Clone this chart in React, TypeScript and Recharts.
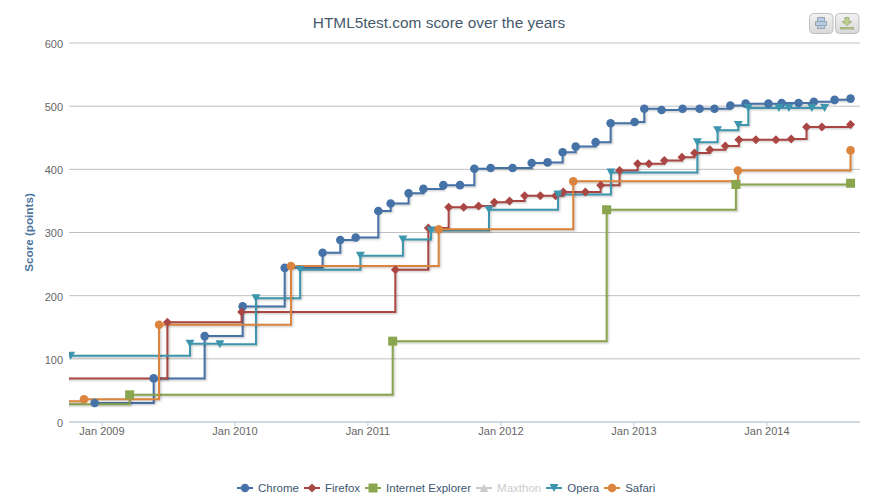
import React from "react";
import { LineChart, Line, XAxis, YAxis, CartesianGrid } from "recharts";

// dates are decimal years
const chromeDates = [2008.945, 2009.389, 2009.772, 2010.058, 2010.374, 2010.659, 2010.792, 2010.908, 2011.078, 2011.171, 2011.306, 2011.417, 2011.567, 2011.692, 2011.8, 2011.923, 2012.088, 2012.231, 2012.351, 2012.464, 2012.562, 2012.712, 2012.825, 2013.005, 2013.078, 2013.208, 2013.366, 2013.494, 2013.606, 2013.725, 2013.84, 2014.011, 2014.111, 2014.238, 2014.353, 2014.509, 2014.629];
const chromeScores = [30, 69, 136, 183, 244, 268, 288, 292, 334, 346, 362, 369, 375, 375, 401, 402, 402, 410, 411, 427, 436, 443, 473, 475, 496, 494, 496, 496, 496, 501, 504, 504, 505, 505, 507, 510, 512];

const firefoxDates = [2008.6, 2009.492, 2010.05, 2011.206, 2011.454, 2011.607, 2011.72, 2011.832, 2011.95, 2012.065, 2012.178, 2012.296, 2012.411, 2012.469, 2012.635, 2012.75, 2012.892, 2013.028, 2013.113, 2013.229, 2013.361, 2013.456, 2013.571, 2013.687, 2013.789, 2013.917, 2014.068, 2014.183, 2014.298, 2014.414, 2014.629];
const firefoxScores = [69, 158, 174, 241, 307, 340, 340, 342, 348, 350, 358, 358, 358, 364, 364, 375, 398, 409, 409, 414, 419, 426, 431, 437, 447, 447, 447, 448, 467, 467, 471];

const ieDates = [2008.6, 2009.208, 2011.186, 2012.795, 2013.767, 2014.629];
const ieScores = [28, 43, 128, 336, 376, 378];

const operaDates = [2008.765, 2009.662, 2009.887, 2010.158, 2010.49, 2010.943, 2011.263, 2011.474, 2011.91, 2012.429, 2012.827, 2013.477, 2013.629, 2013.785, 2013.86, 2014.09, 2014.165, 2014.338, 2014.434];
const operaScores = [105, 124, 123, 196, 241, 263, 289, 303, 336, 360, 395, 443, 462, 470, 497, 497, 497, 497, 497];

const safariDates = [2008.6, 2008.865, 2009.429, 2010.421, 2011.532, 2012.544, 2013.782, 2014.629];
const safariScores = [33, 36, 154, 247, 305, 381, 398, 430];

const yearTicks = [2009, 2010, 2011, 2012, 2013, 2014];
const scoreTicks = [0, 100, 200, 300, 400, 500, 600];

const toPoints = (dates: number[], scores: number[]) =>
  dates.map((date, i) => ({ date, score: scores[i] }));

function Marker({ kind, cx, cy, color }: any) {
  if (kind === "diamond")
    return <path d={`M${cx} ${cy - 4.5}L${cx + 4.5} ${cy}L${cx} ${cy + 4.5}L${cx - 4.5} ${cy}Z`} fill={color} />;
  if (kind === "square")
    return <rect x={cx - 4.5} y={cy - 4.5} width={9} height={9} fill={color} />;
  if (kind === "down")
    return <path d={`M${cx - 4.5} ${cy - 4}L${cx + 4.5} ${cy - 4}L${cx} ${cy + 4}Z`} fill={color} />;
  if (kind === "up")
    return <path d={`M${cx - 4.5} ${cy + 4}L${cx + 4.5} ${cy + 4}L${cx} ${cy - 4}Z`} fill={color} />;
  return <circle cx={cx} cy={cy} r={4.3} fill={color} />;
}

const series = [
  { name: "Chrome", color: "#4572A7", kind: "circle", points: toPoints(chromeDates, chromeScores) },
  { name: "Firefox", color: "#AA4643", kind: "diamond", points: toPoints(firefoxDates, firefoxScores) },
  { name: "Internet Explorer", color: "#89A54E", kind: "square", points: toPoints(ieDates, ieScores) },
  { name: "Opera", color: "#3D96AE", kind: "down", points: toPoints(operaDates, operaScores) },
  { name: "Safari", color: "#DB843D", kind: "circle", points: toPoints(safariDates, safariScores) },
];

const legendItems = [
  { name: "Chrome", color: "#4572A7", kind: "circle" },
  { name: "Firefox", color: "#AA4643", kind: "diamond" },
  { name: "Internet Explorer", color: "#89A54E", kind: "square" },
  { name: "Maxthon", color: "#CCCCCC", kind: "up" },
  { name: "Opera", color: "#3D96AE", kind: "down" },
  { name: "Safari", color: "#DB843D", kind: "circle" },
];

const FONT = '"Liberation Sans", Helvetica, Arial, sans-serif';

function ExportButton({ left, kind }: { left: number; kind: string }) {
  return (
    <svg width={25} height={21} style={{ position: "absolute", left, top: 13 }}>
      <defs>
        <linearGradient id={"btn" + kind} x1="0" y1="0" x2="0" y2="1">
          <stop offset="0" stopColor="#f2f2f2" />
          <stop offset="1" stopColor="#d8d8d8" />
        </linearGradient>
      </defs>
      <rect x={0.5} y={0.5} width={23.5} height={20} rx={4} fill={`url(#btn${kind})`} stroke="#c0c0c0" />
      {kind === "print" ? (
        <g fill="#b5cbe6" stroke="#9aa6b2">
          <rect x={8.5} y={4.5} width={7} height={4} />
          <rect x={6.5} y={8.5} width={11} height={4} />
          <rect x={8.5} y={12.5} width={7} height={3} />
        </g>
      ) : (
        <g fill="#bccf8c" stroke="#a3b07f">
          <path d="M10 4.5h4v4h3l-5 4-5-4h3z" />
          <rect x={5.5} y={14.5} width={13} height={1.5} />
        </g>
      )}
    </svg>
  );
}

export default function App() {
  return (
    <div style={{ position: "absolute", left: 0, top: 0, width: 870, height: 504, background: "#fff", fontFamily: FONT }}>
      <style>{`.recharts-line-curve { filter: drop-shadow(1px 1px 1px rgba(0,0,0,0.25)); }`}</style>
      <div style={{ position: "absolute", left: 0, width: 878, top: 14, textAlign: "center", fontSize: 15.4, color: "#45596d" }}>
        HTML5test.com score over the years
      </div>
      <ExportButton left={809} kind="print" />
      <ExportButton left={835} kind="download" />
      <LineChart width={870} height={504} margin={{ top: 43, right: 10, bottom: 52, left: 0 }}>
        <CartesianGrid vertical={false} stroke="#C0C0C0" />
        <XAxis
          type="number"
          dataKey="date"
          domain={[2008.752, 2014.7]}
          allowDataOverflow
          ticks={yearTicks}
          tickFormatter={(v: number) => `Jan ${v}`}
          height={30}
          tickSize={4}
          tickMargin={0}
          stroke="#C0D0E0"
          tick={{ fill: "#666666", fontSize: 11, fontFamily: FONT, dy: 1 }}
        />
        <YAxis
          type="number"
          domain={[0, 600]}
          ticks={scoreTicks}
          width={69}
          axisLine={false}
          tickLine={false}
          tickMargin={0}
          tick={{ fill: "#666666", fontSize: 11, fontFamily: FONT, dy: 1 }}
          label={{
            value: "Score (points)",
            angle: -90,
            position: "insideLeft",
            offset: 29,
            style: { textAnchor: "middle", fill: "#4D759E", fontSize: 11.7, fontWeight: "bold", fontFamily: FONT },
          }}
        />
        {series.map((s) => (
          <Line
            key={s.name}
            name={s.name}
            data={s.points}
            dataKey="score"
            type="stepAfter"
            stroke={s.color}
            strokeWidth={2}
            isAnimationActive={false}
            dot={(p: any) => <Marker key={p.index} kind={s.kind} cx={p.cx} cy={p.cy} color={s.color} />}
          />
        ))}
      </LineChart>
      <div style={{ position: "absolute", left: 237, top: 481, display: "flex", alignItems: "center", fontSize: 11.5, color: "#3E576F" }}>
        {legendItems.map((item) => (
          <div key={item.name} style={{ display: "flex", alignItems: "center", marginRight: 5 }}>
            <svg width={16} height={14} style={{ marginRight: 5 }}>
              <line x1={0} x2={16} y1={7} y2={7} stroke={item.color} strokeWidth={2} />
              <Marker kind={item.kind} cx={8} cy={7} color={item.color} />
            </svg>
            <span style={{ color: item.name === "Maxthon" ? "#CCCCCC" : undefined }}>{item.name}</span>
          </div>
        ))}
      </div>
    </div>
  );
}
